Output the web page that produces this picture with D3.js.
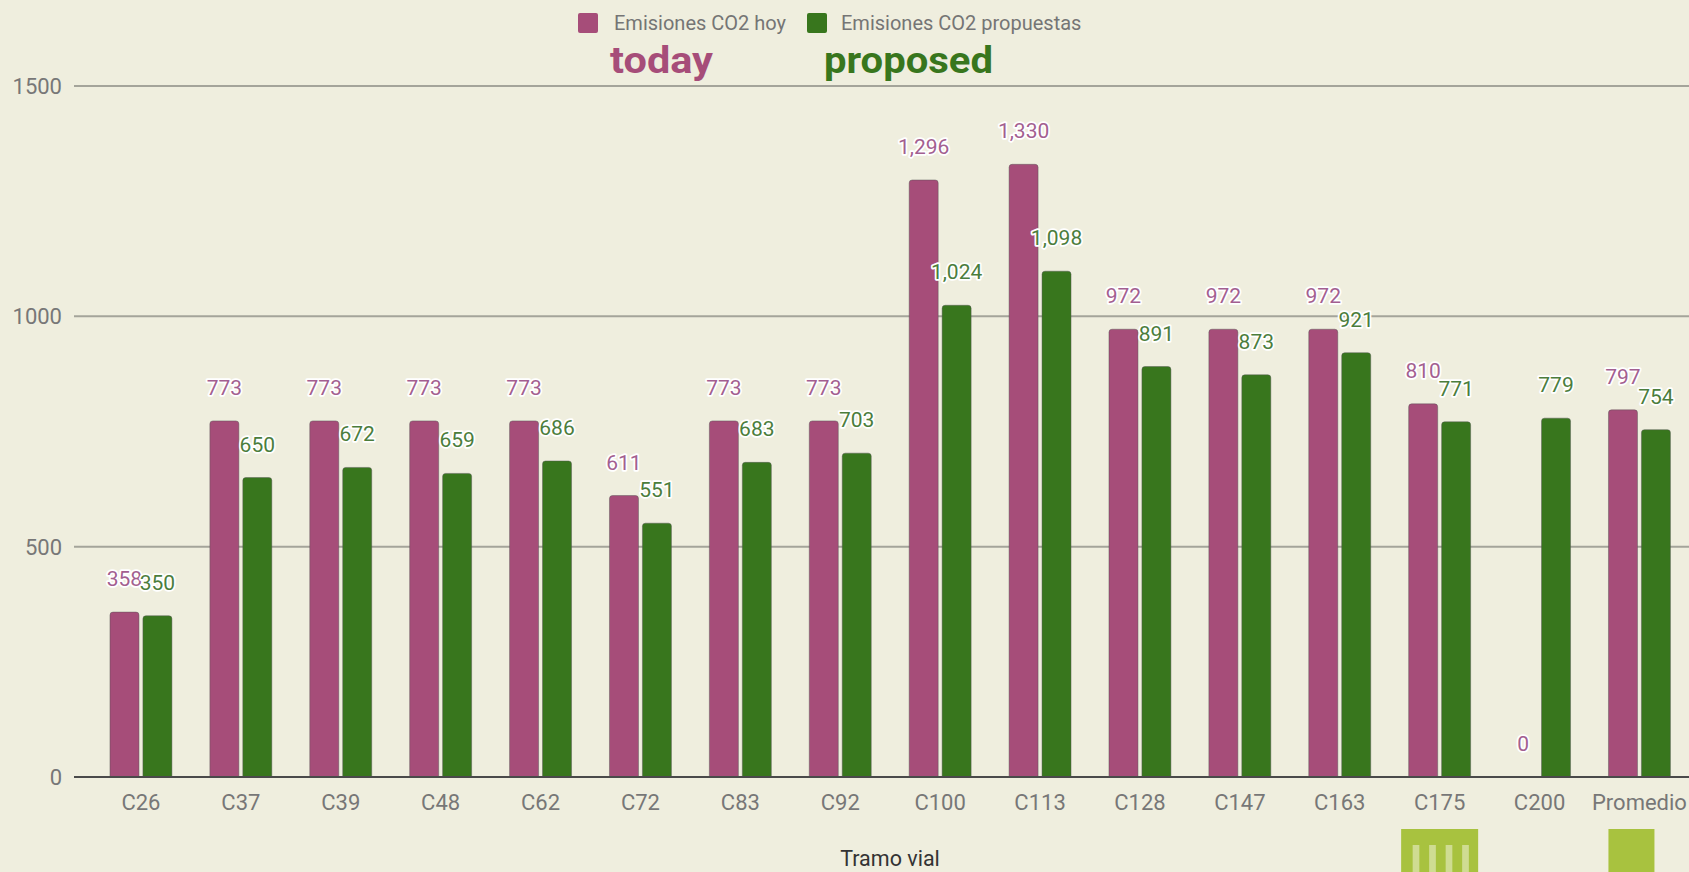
<!DOCTYPE html>
<html>
<head>
<meta charset="utf-8">
<script src="https://cdn.jsdelivr.net/npm/d3@7"></script>
<style>
  html, body { margin: 0; padding: 0; background: #efeede; overflow: hidden; }
  svg { display: block; }
  text { font-family: Roboto, "Noto Sans", sans-serif; }
</style>
</head>
<body>
<svg id="chart"></svg>
<script>
// emisiones co2 por tramo vial: hoy vs propuestas
const d3 = window.d3;

const W = 1689;
const H = 872;

const CATEGORIES = ["C26", "C37", "C39", "C48", "C62", "C72", "C83", "C92", "C100", "C113", "C128", "C147", "C163", "C175", "C200", "Promedio"];
const HOY = [358, 773, 773, 773, 773, 611, 773, 773, 1296, 1330, 972, 972, 972, 810, 0, 797];
const PROPUESTAS = [350, 650, 672, 659, 686, 551, 683, 703, 1024, 1098, 891, 873, 921, 771, 779, 754];
const SERIES = ["Emisiones CO2 hoy", "Emisiones CO2 propuestas"];
const Y_TICKS = [0, 500, 1000, 1500];

const PINK = "#a64d79";
const GREEN = "#38761d";
const LIME = "#a8c23f";

const PLOT = { left: 74, right: W, top: 86, bottom: 777 };

const svg = d3.select("#chart").attr("width", W).attr("height", H);

const x = d3.scaleBand().domain(CATEGORIES).range([91, 91 + 16 * 99.9]).paddingInner(0.38).paddingOuter(0.19);
const xs = d3.scaleBand().domain(SERIES).range([0, x.bandwidth()]).paddingInner(0.12);
const y = d3.scaleLinear().domain([0, 1500]).range([PLOT.bottom, PLOT.top]);

const rows = CATEGORIES.map((c, i) => ({ cat: c, values: [HOY[i], PROPUESTAS[i]] }));

drawGrid();
drawBars();
drawLabels();
drawAxes();
drawLegend();
drawDecor();

function drawGrid() {
  svg.append("g")
    .selectAll("line")
    .data(Y_TICKS.filter((t) => t > 0))
    .join("line")
    .attr("x1", PLOT.left)
    .attr("x2", PLOT.right)
    .attr("y1", (d) => y(d))
    .attr("y2", (d) => y(d))
    .attr("stroke", "#a4a49a")
    .attr("stroke-width", 2);
}

function drawBars() {
  const g = svg.append("g");
  const groups = g.selectAll("g")
    .data(rows)
    .join("g")
    .attr("transform", (d) => `translate(${x(d.cat)},0)`);
  groups.selectAll("path")
    .data((d) => d.values.map((v, i) => ({ v, s: SERIES[i], i })))
    .join("path")
    .attr("fill", (d) => (d.i === 0 ? PINK : GREEN))
    .attr("stroke", "#555")
    .attr("stroke-opacity", 0.45)
    .attr("stroke-width", 1)
    .attr("d", (d) => barPath(xs(d.s), y(d.v), xs.bandwidth(), y(0) - y(d.v), 3));
}

// rectangulo con esquinas de arriba redondeadas
function barPath(bx, by, bw, bh, r) {
  if (bh <= 0) return null;
  const rr = Math.min(r, bh);
  return `M${bx},${by + bh}V${by + rr}Q${bx},${by} ${bx + rr},${by}H${bx + bw - rr}Q${bx + bw},${by} ${bx + bw},${by + rr}V${by + bh}Z`;
}

function drawLabels() {
  const fmt = d3.format(",");
  // primero los rosados, los verdes encima tapan con su halo
  [0, 1].forEach((si) => {
    svg.append("g")
      .selectAll("text")
      .data(rows)
      .join("text")
      .attr("x", (d) => x(d.cat) + xs(SERIES[si]) + xs.bandwidth() / 2)
      .attr("y", (d) => y(d.values[si]) - 26)
      .attr("text-anchor", "middle")
      .attr("font-size", 21)
      .attr("fill", si === 0 ? "#a35f90" : "#4b7d3c")
      .attr("stroke", "#ffffff")
      .attr("stroke-width", 3.5)
      .attr("stroke-linejoin", "round")
      .attr("paint-order", "stroke")
      .text((d) => fmt(d.values[si]));
  });
}

function drawAxes() {
  svg.append("line")
    .attr("x1", PLOT.left)
    .attr("x2", PLOT.right)
    .attr("y1", y(0))
    .attr("y2", y(0))
    .attr("stroke", "#4a4a4a")
    .attr("stroke-width", 2);

  svg.append("g")
    .selectAll("text")
    .data(Y_TICKS)
    .join("text")
    .attr("x", 62)
    .attr("y", (d) => y(d) + 8)
    .attr("text-anchor", "end")
    .attr("font-size", 22)
    .attr("fill", "#777")
    .text((d) => d);

  svg.append("g")
    .selectAll("text")
    .data(CATEGORIES)
    .join("text")
    .attr("x", (d) => x(d) + x.bandwidth() / 2)
    .attr("y", 810)
    .attr("text-anchor", "middle")
    .attr("font-size", 22)
    .attr("fill", "#777")
    .text((d) => d);

  svg.append("text")
    .attr("x", 890)
    .attr("y", 866)
    .attr("text-anchor", "middle")
    .attr("font-size", 21.5)
    .attr("fill", "#333")
    .text("Tramo vial");
}

function drawLegend() {
  const items = [
    { label: SERIES[0], color: PINK, x: 578, tx: 614 },
    { label: SERIES[1], color: GREEN, x: 807, tx: 841 },
  ];
  const g = svg.append("g");
  g.selectAll("rect")
    .data(items)
    .join("rect")
    .attr("x", (d) => d.x)
    .attr("y", 13)
    .attr("width", 20)
    .attr("height", 20)
    .attr("rx", 2)
    .attr("fill", (d) => d.color);
  g.selectAll("text")
    .data(items)
    .join("text")
    .attr("x", (d) => d.tx)
    .attr("y", 30)
    .attr("font-size", 20)
    .attr("fill", "#757575")
    .text((d) => d.label);

  // rotulos en ingles
  svg.append("text")
    .attr("x", 610).attr("y", 73)
    .attr("font-family", "'Noto Sans', sans-serif")
    .attr("font-weight", 700).attr("font-size", 36)
    .attr("textLength", 103)
    .attr("lengthAdjust", "spacingAndGlyphs")
    .attr("fill", PINK)
    .text("today");
  svg.append("text")
    .attr("x", 824).attr("y", 73)
    .attr("font-family", "'Noto Sans', sans-serif")
    .attr("font-weight", 700).attr("font-size", 36)
    .attr("textLength", 169)
    .attr("lengthAdjust", "spacingAndGlyphs")
    .attr("fill", GREEN)
    .text("proposed");
}

function drawDecor() {
  // cuadritos verdes abajo de C175 y Promedio
  const c175 = x("C175") + x.bandwidth() / 2;
  svg.append("rect")
    .attr("x", c175 - 38.5).attr("y", 829)
    .attr("width", 77).attr("height", H - 829)
    .attr("fill", LIME);
  svg.append("g")
    .selectAll("rect")
    .data([0, 1, 2, 3])
    .join("rect")
    .attr("x", (d) => c175 - 27 + d * 16.5)
    .attr("y", 845)
    .attr("width", 6.7)
    .attr("height", H - 845)
    .attr("fill", "#cfdc92");
  const prom = x("Promedio") + x.bandwidth() / 2;
  svg.append("rect")
    .attr("x", prom - 31).attr("y", 829)
    .attr("width", 46).attr("height", H - 829)
    .attr("fill", LIME);
}
</script>
</body>
</html>
